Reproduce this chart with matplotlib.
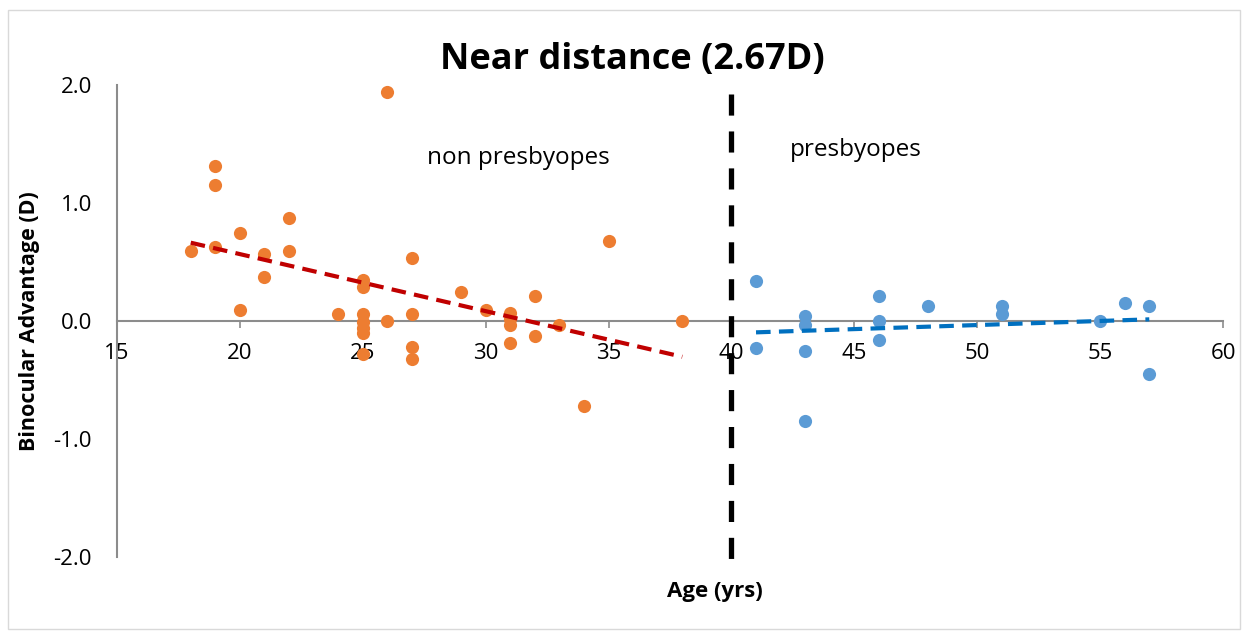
import matplotlib
matplotlib.use('Agg')
import matplotlib.pyplot as plt
import numpy as np
from matplotlib.patches import Rectangle

plt.rcParams['font.family'] = ['Open Sans', 'DejaVu Sans']

# non presbyopes (orange)
age_young = [18, 19, 19, 19, 20, 20, 21, 21, 22, 22, 24,
             25, 25, 25, 25, 25, 25, 25, 26, 26, 27, 27, 27, 27,
             29, 30, 31, 31, 31, 31, 32, 32, 33, 34, 35, 38]
adv_young = [0.59, 1.31, 1.15, 0.63, 0.75, 0.09, 0.57, 0.37, 0.87, 0.59, 0.06,
             0.35, 0.29, 0.06, -0.01, -0.06, -0.10, -0.28, 1.94, 0.0, 0.53, 0.06, -0.22, -0.32,
             0.25, 0.09, 0.065, 0.02, -0.03, -0.19, 0.21, -0.13, -0.03, -0.72, 0.68, 0.0]

# presbyopes (blue)
age_old = [41, 41, 43, 43, 43, 43, 46, 46, 46, 48, 51, 51, 55, 56, 57, 57]
adv_old = [0.34, -0.23, 0.04, -0.03, -0.25, -0.85, 0.21, 0.0, -0.16, 0.13,
           0.13, 0.06, 0.0, 0.155, 0.13, -0.45]

cutoff_age = 40
xticks = [15, 20, 25, 30, 35, 40, 45, 50, 55, 60]
yticks = [-2.0, -1.0, 0.0, 1.0, 2.0]

orange = '#ED7D31'
blue = '#5B9BD5'
gray = '#8C8C8C'

fig = plt.figure(figsize=(12.48, 6.31), dpi=100)
ax = fig.add_axes([117/1248, 1-557/631, (1223-117)/1248, (557-85)/631])

ax.scatter(age_young, adv_young, s=90, color=orange, zorder=3, linewidths=0)
ax.scatter(age_old, adv_old, s=90, color=blue, zorder=3, linewidths=0)

# linear trendlines
for xs, ys, c in [(age_young, adv_young, '#C00000'), (age_old, adv_old, '#0070C0')]:
    k, b = np.polyfit(xs, ys, 1)
    xx = np.array([min(xs), max(xs)])
    ax.plot(xx, k*xx + b, color=c, lw=3, dashes=(3.5, 2), zorder=4)

# dashed cut-off line, drawn top to bottom
ax.plot([cutoff_age, cutoff_age], [1.92, -2.03], color='black', lw=3.8,
        dashes=(4, 3), zorder=5, dash_capstyle='butt', clip_on=False)

ax.set_xlim(15, 60)
ax.set_ylim(-2, 2)
ax.set_xticks(xticks)
ax.set_yticks(yticks)
ax.set_yticklabels([f'{v:.1f}' for v in yticks])

ax.spines['top'].set_visible(False)
ax.spines['right'].set_visible(False)
ax.spines['bottom'].set_position(('data', 0))
for s in ['left', 'bottom']:
    ax.spines[s].set_color(gray)
    ax.spines[s].set_linewidth(1.5)
ax.tick_params(axis='y', length=0, pad=18, labelsize=16)
ax.tick_params(axis='x', length=5, width=1.2, color=gray, pad=11, labelsize=16)

ax.text(31.35, 1.38, 'non presbyopes', fontsize=17.5, ha='center', va='center')
ax.text(45.05, 1.45, 'presbyopes', fontsize=17.5, ha='center', va='center')

fig.text(632/1248, 1-60/631, 'Near distance (2.67D)', fontsize=26, fontweight='bold',
         ha='center', va='center')
fig.text(715/1248, 1-592/631, 'Age (yrs)', fontsize=16, fontweight='bold',
         ha='center', va='center')
fig.text(30/1248, 1-321/631, 'Binocular Advantage (D)', fontsize=15.5, fontweight='bold',
         ha='center', va='center', rotation=90)

fig.patches.append(Rectangle((8/1248, 2/631), 1232/1248, 619/631, transform=fig.transFigure,
                             fill=False, edgecolor='#D9D9D9', lw=1))

fig.savefig('out.png', dpi=100)
